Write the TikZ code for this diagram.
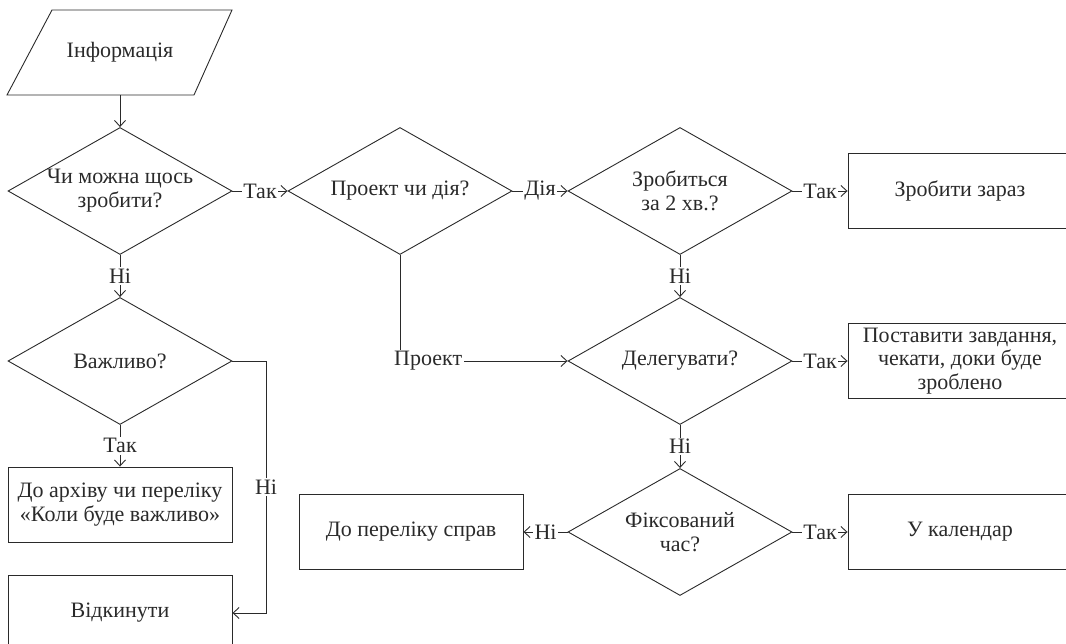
\documentclass[tikz,border=0pt]{standalone}
\usepackage{fontspec}
\setmainfont{Liberation Serif}
\usetikzlibrary{shapes.geometric,arrows.meta}
\definecolor{ink}{HTML}{2A2A2A}

\begin{document}
\begin{tikzpicture}[x=1pt,y=-1pt,
  every node/.style={font=\fontsize{22}{23.8}\selectfont, text=ink},
  line/.style={draw=ink, line width=0.9pt},
  flow/.style={line, -{Straight Barb[length=6pt,width=11pt,line width=0.9pt]}},
  decision/.style={diamond, line, aspect=1.78, minimum width=224pt, minimum height=127pt, inner sep=0pt, align=center},
  action/.style={rectangle, line, minimum width=224pt, minimum height=75pt, align=center, inner sep=1pt},
  lbl/.style={fill=white, inner sep=1.5pt}
]
\useasboundingbox (0,0) rectangle (1066,644);

% input block (parallelogram)
\node[minimum width=140pt, minimum height=85pt] (info) at (120,52.5) {Інформація};
\draw[line] (52,10) -- (232,10) -- (194,95) -- (7,95) -- cycle;

% decisions
\node[decision] (d1) at (120,191) {Чи можна щось\\зробити?};
\node[decision] (d2) at (400,191) {Проект чи дія?};
\node[decision] (d3) at (680,191) {Зробиться\\за 2 хв.?};
\node[decision] (imp) at (120,361) {Важливо?};
\node[decision] (d4) at (680,361) {Делегувати?};
\node[decision] (d5) at (680,532) {Фіксований\\час?};

% actions
\node[action] (now) at (960,191) {Зробити зараз};
\node[action] (deleg) at (960,361) {Поставити завдання,\\чекати, доки буде\\зроблено};
\node[action] (cal) at (960,532) {У календар};
\node[action] (list) at (411,532) {До переліку справ};
\node[action] (arch) at (120,504.5) {До архіву чи переліку\\«Коли буде важливо»};
\node[action] (rej) at (120,613) {Відкинути};

% connectors
\draw[flow] (info.south) -- (d1.north);
\draw[flow] (d1.east) -- node[lbl]{Так} (d2.west);
\draw[flow] (d2.east) -- node[lbl]{Дія} (d3.west);
\draw[flow] (d3.east) -- node[lbl]{Так} (now.west);
\draw[flow] (d1.south) -- node[lbl]{Ні} (imp.north);
\draw[flow] (imp.south) -- node[lbl]{Так} (arch.north);
\coordinate (bend) at (266,361);
\draw[flow] (imp.east) -- (bend) -- node[lbl]{Ні} (bend |- rej.east) -- (rej.east);
\draw[flow] (d2.south) |- node[lbl,pos=0.584]{Проект} (d4.west);
\draw[flow] (d3.south) -- node[lbl]{Ні} (d4.north);
\draw[flow] (d4.east) -- node[lbl]{Так} (deleg.west);
\draw[flow] (d4.south) -- node[lbl]{Ні} (d5.north);
\draw[flow] (d5.west) -- node[lbl]{Ні} (list.east);
\draw[flow] (d5.east) -- node[lbl]{Так} (cal.west);
\end{tikzpicture}
\end{document}
